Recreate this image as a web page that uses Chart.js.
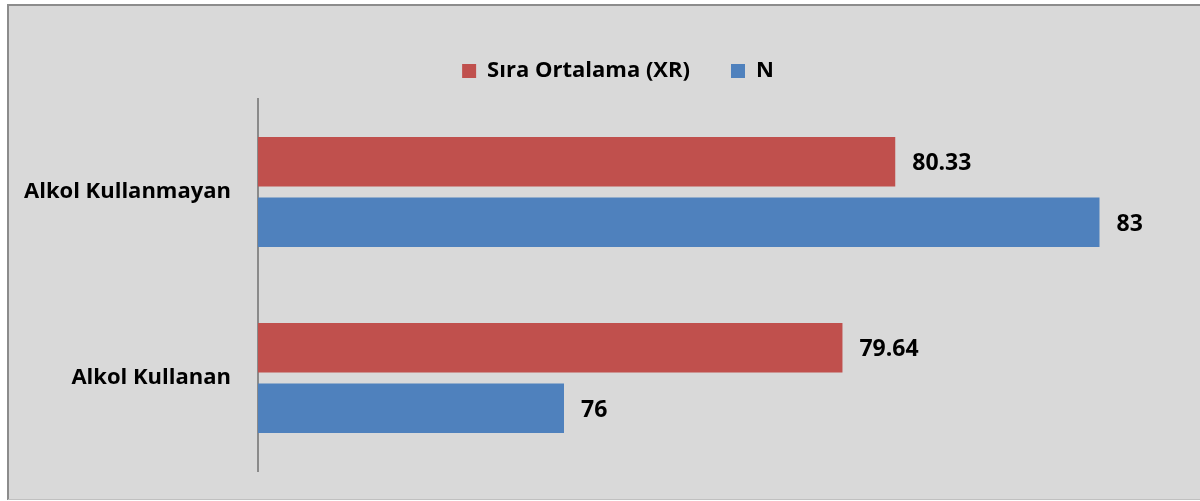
<!DOCTYPE html>
<html>
<head>
<meta charset="utf-8">
<script src="https://cdn.jsdelivr.net/npm/chart.js@4.4.1/dist/chart.umd.min.js"></script>
<style>
  html, body { margin: 0; padding: 0; background: #ffffff; }
  #wrap { width: 1200px; height: 501px; position: relative; }
</style>
</head>
<body>
<div id="wrap"><canvas id="chart" width="1200" height="501"></canvas></div>
<script>
// data
const categories = ['Alkol Kullanmayan', 'Alkol Kullanan'];
const seriesNames = ['Sıra Ortalama (XR)', 'N'];
const siraOrtalama = [80.33, 79.64];
const nValues = [83, 76];
const xMin = 72;
const xMax = 84;

const FONT = '"Open Sans", Lato, sans-serif';

// grey panel with the darker border on the top and left
const panel = {
  id: 'panel',
  beforeDraw(chart) {
    const ctx = chart.ctx;
    ctx.save();
    ctx.fillStyle = '#d9d9d9';
    ctx.fillRect(7, 4, chart.width - 7, chart.height - 5);
    ctx.strokeStyle = '#8c8c8c';
    ctx.lineWidth = 2;
    ctx.beginPath();
    ctx.moveTo(8, chart.height - 1);
    ctx.lineTo(8, 5);
    ctx.lineTo(chart.width, 5);
    ctx.stroke();
    ctx.strokeStyle = '#c0c0c0';
    ctx.lineWidth = 1;
    ctx.beginPath();
    ctx.moveTo(8, chart.height - 1.5);
    ctx.lineTo(chart.width, chart.height - 1.5);
    ctx.stroke();
    ctx.restore();
  }
};

// value labels to the right of each bar
const valueLabels = {
  id: 'valueLabels',
  afterDatasetsDraw(chart) {
    const ctx = chart.ctx;
    ctx.save();
    ctx.font = 'bold 23px ' + FONT;
    ctx.fillStyle = '#000';
    ctx.textAlign = 'left';
    ctx.textBaseline = 'middle';
    chart.data.datasets.forEach((ds, i) => {
      chart.getDatasetMeta(i).data.forEach((bar, j) => {
        ctx.fillText(String(ds.data[j]), bar.x + 17, bar.y + 2);
      });
    });
    ctx.restore();
  }
};

// fix the legend band height, and nudge it right like in the picture
const legendHeight = {
  id: 'legendHeight',
  beforeInit(chart) {
    const fit = chart.legend.fit;
    chart.legend.fit = function () {
      fit.bind(chart.legend)();
      this.height = 80;
    };
  },
  afterLayout(chart) {
    chart.legend.left += 30;
    chart.legend.right += 30;
  }
};

new Chart(document.getElementById('chart'), {
  type: 'bar',
  data: {
    labels: categories,
    datasets: [
      { label: seriesNames[0], data: siraOrtalama, backgroundColor: '#c0504d' },
      { label: seriesNames[1], data: nValues, backgroundColor: '#4f81bd' }
    ]
  },
  options: {
    indexAxis: 'y',
    responsive: false,
    animation: false,
    devicePixelRatio: 1,
    layout: { padding: { top: 19, right: 24, bottom: 30, left: 0 } },
    datasets: { bar: { categoryPercentage: 0.65, barPercentage: 0.82 } },
    scales: {
      x: { display: false, min: xMin, max: xMax },
      y: {
        grid: { display: false, drawTicks: false },
        border: { display: true, color: '#8a8a8a', width: 2 },
        ticks: { color: '#000', padding: 27, font: { family: FONT, size: 22, weight: 'bold' } },
        afterFit(scale) {
          scale.width = 258;
          scale.paddingTop = 0;
          scale.paddingBottom = 0;
        }
      }
    },
    plugins: {
      legend: {
        position: 'top',
        labels: {
          color: '#000',
          boxWidth: 14,
          boxHeight: 14,
          padding: 41,
          font: { family: FONT, size: 22, weight: 'bold' }
        }
      },
      tooltip: { enabled: false }
    }
  },
  plugins: [panel, valueLabels, legendHeight]
});
</script>
</body>
</html>
